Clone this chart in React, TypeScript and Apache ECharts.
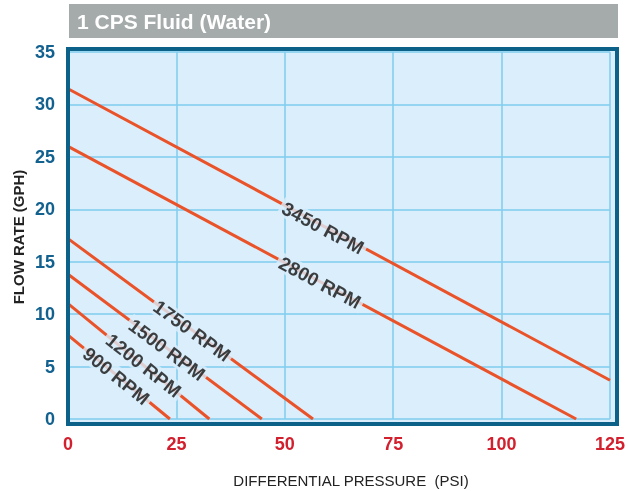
import React, { useEffect, useRef } from "react";
import * as echarts from "echarts";

const xTicks = [0, 25, 50, 75, 100, 125];
const yTicks = [0, 5, 10, 15, 20, 25, 30, 35];
const rpmNames = ["3450 RPM", "2800 RPM", "1750 RPM", "1500 RPM", "1200 RPM", "900 RPM"];
const lineStarts = [[0, 31.5], [0, 26], [0, 17.2], [0, 13.8], [0, 11], [0, 8]];
const lineEnds = [[125, 3.7], [117.2, 0], [56.5, 0], [44.7, 0], [32.6, 0], [23.5, 0]];
const labelPos = [[58.8, 18.2], [58.1, 13.0], [28.6, 8.4], [22.8, 6.6], [17.4, 5.1], [11.1, 4.1]];
const labelAngle = [-28, -28, -36, -36.5, -38.5, -39];

const PL = 68, PR = 617, PT = 52, PB = 419;
const narrow = "'Liberation Sans Narrow', 'Arial Narrow', 'Liberation Sans', Arial, sans-serif";

export default function App() {
  const ref = useRef<HTMLDivElement>(null);
  useEffect(() => {
    document.body.style.margin = "0";
    const chart = echarts.init(ref.current!, null, { renderer: "svg" });
    const lineSeries = rpmNames.map((n, i) => ({
      type: "line",
      name: n,
      data: [lineStarts[i], lineEnds[i]],
      symbol: "none",
      lineStyle: { color: "#ea5329", width: 3 },
      z: 3,
    }));
    chart.setOption({
      animation: false,
      grid: { left: PL, right: 628 - PR, top: PT, bottom: 491 - PB },
      xAxis: {
        type: "value",
        min: 0,
        max: 125,
        interval: 25,
        axisLine: { show: false },
        axisTick: { show: false },
        splitLine: { lineStyle: { color: "#7fcdef", width: 1.5 } },
        axisLabel: {
          color: "#d2202e",
          fontFamily: narrow,
          fontWeight: "bold",
          fontSize: 18,
          margin: 16,
          customValues: xTicks,
        },
      },
      yAxis: {
        type: "value",
        min: 0,
        max: 35,
        interval: 5,
        axisLine: { show: false },
        axisTick: { show: false },
        splitLine: { lineStyle: { color: "#7fcdef", width: 1.5 } },
        axisLabel: {
          color: "#13618f",
          fontFamily: narrow,
          fontWeight: "bold",
          fontSize: 18,
          margin: 13,
          padding: [9, 0, 0, 0],
          customValues: yTicks,
        },
      },
      graphic: [
        { type: "rect", shape: { x: 69, y: 4, width: 549, height: 34 }, style: { fill: "#a5abab" }, z: 1 },
        {
          type: "text",
          x: 77,
          y: 21,
          style: {
            text: "1 CPS Fluid (Water)",
            fill: "#ffffff",
            font: "bold 21px 'Liberation Sans', Arial, sans-serif",
            textVerticalAlign: "middle",
          },
          z: 2,
        },
        { type: "rect", shape: { x: PL, y: 49, width: PR - PL, height: 375 }, style: { fill: "#dbeefb" }, z: -10 },
        {
          type: "rect",
          shape: { x: PL, y: 49, width: PR - PL, height: 375 },
          style: { fill: "none", stroke: "#0c6189", lineWidth: 4 },
          z: 100,
        },
        {
          type: "text",
          x: 351,
          y: 480,
          style: {
            text: "DIFFERENTIAL PRESSURE  (PSI)",
            fill: "#222222",
            font: "15px 'Liberation Sans', Arial, sans-serif",
            textAlign: "center",
            textVerticalAlign: "middle",
          },
        },
        {
          type: "text",
          x: 18,
          y: 237,
          rotation: Math.PI / 2,
          style: {
            text: "FLOW RATE (GPH)",
            fill: "#222222",
            font: "bold 15px 'Liberation Sans', Arial, sans-serif",
            textAlign: "center",
            textVerticalAlign: "middle",
          },
        },
      ],
      series: [
        ...lineSeries,
        {
          type: "scatter",
          symbolSize: 1,
          itemStyle: { color: "rgba(0,0,0,0)" },
          z: 5,
          data: rpmNames.map((n, i) => ({
            name: n,
            value: labelPos[i],
            label: { rotate: labelAngle[i] },
          })),
          label: {
            show: true,
            position: "inside",
            formatter: (p: any) => p.name,
            color: "#111111",
            fontFamily: "'Liberation Sans', Arial, sans-serif",
            fontWeight: "bold",
            fontSize: 19,
            backgroundColor: "#dbeefb",
            padding: [0, 3],
          },
        },
      ],
    });
    return () => chart.dispose();
  }, []);
  return <div ref={ref} style={{ position: "fixed", left: 0, top: 0, width: 628, height: 491 }} />;
}
